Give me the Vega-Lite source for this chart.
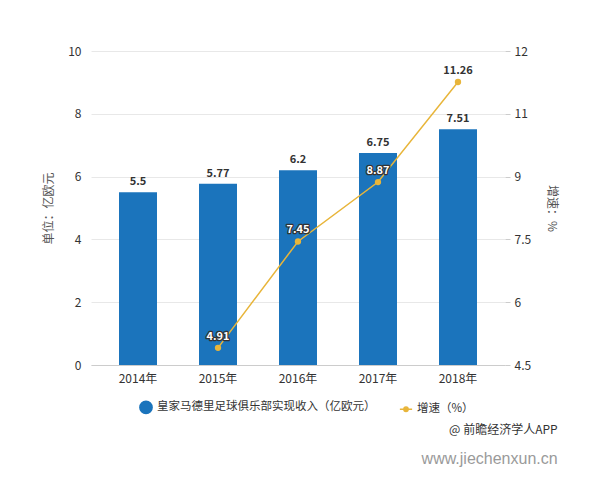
{
  "$schema": "https://vega.github.io/schema/vega-lite/v6.json",
  "width": 414,
  "height": 314,
  "padding": {"left": 42, "top": 45, "right": 10, "bottom": 5},
  "background": "white",
  "config": {
    "font": "Noto Sans CJK SC",
    "view": {"stroke": null},
    "axis": {"labelFont": "Noto Sans CJK SC", "titleFont": "Noto Sans CJK SC", "labelColor": "#333", "labelFontSize": 12, "titleColor": "#555", "titleFontSize": 12, "titleFontWeight": "normal"},
    "legend": {"labelFont": "Noto Sans CJK SC", "labelFontSize": 11.5, "labelColor": "#333", "labelLimit": 0}
  },
  "data": {
    "values": [
      {"year": "2014年", "revenue": 5.5, "growth": null},
      {"year": "2015年", "revenue": 5.77, "growth": 4.91},
      {"year": "2016年", "revenue": 6.2, "growth": 7.45},
      {"year": "2017年", "revenue": 6.75, "growth": 8.87},
      {"year": "2018年", "revenue": 7.51, "growth": 11.26}
    ]
  },
  "title": {
    "text": "@ 前瞻经济学人APP",
    "subtitle": "www.jiechenxun.cn",
    "orient": "bottom",
    "anchor": "end",
    "frame": "bounds",
    "fontSize": 12,
    "fontWeight": "normal",
    "color": "#333",
    "subtitleColor": "#9a9a9a",
    "subtitleFontSize": 16,
    "subtitleFont": "Liberation Sans",
    "offset": 8,
    "subtitlePadding": 14
  },
  "encoding": {
    "x": {
      "field": "year",
      "type": "ordinal",
      "scale": {"paddingInner": 0.525, "paddingOuter": 0.35},
      "axis": {"title": null, "labelAngle": 0, "domainColor": "#ccc", "ticks": false, "labelPadding": 8}
    }
  },
  "layer": [
    {
      "encoding": {
        "y": {
          "field": "revenue",
          "type": "quantitative",
          "scale": {"domain": [0, 10], "nice": false},
          "axis": {"title": "单位：亿欧元", "values": [0, 2, 4, 6, 8, 10], "grid": true, "gridColor": "#e8e8e8", "domain": false, "ticks": false, "labelPadding": 10, "titlePadding": 12}
        }
      },
      "layer": [
        {
          "mark": {"type": "bar"},
          "encoding": {
            "color": {
              "datum": "皇家马德里足球俱乐部实现收入（亿欧元）",
              "type": "nominal",
              "scale": {"domain": ["皇家马德里足球俱乐部实现收入（亿欧元）", "增速（%）"], "range": ["#1b74bc", "#e8b53a"]},
              "legend": {
                "title": null, "orient": "none", "legendX": 48, "legendY": 349, "direction": "horizontal",
                "symbolType": "circle", "symbolSize": 150, "columnPadding": 20,
                "encode": {
                  "symbols": {
                    "update": {
                      "shape": [{"test": "datum.value === '增速（%）'", "value": "M-1,0H1M-0.35,0A0.35,0.35 0 1,0 0.35,0A0.35,0.35 0 1,0 -0.35,0Z"}, {"value": "circle"}],
                      "stroke": [{"test": "datum.value === '增速（%）'", "value": "#e8b53a"}, {"value": "transparent"}],
                      "strokeWidth": {"value": 1.5}
                    }
                  }
                }
              }
            }
          }
        },
        {
          "mark": {"type": "text", "dy": -10, "fontSize": 11, "fontWeight": "bold", "color": "#333"},
          "encoding": {"text": {"field": "revenue", "type": "nominal"}}
        }
      ]
    },
    {
      "encoding": {
        "y": {
          "field": "growth",
          "type": "quantitative",
          "scale": {"domain": [4.5, 12], "nice": false, "zero": false},
          "axis": {"orient": "right", "title": "增速：%", "titleAngle": 90, "values": [4.5, 6, 7.5, 9, 10.5, 12], "format": "~g", "grid": false, "domain": false, "ticks": true, "tickColor": "#ccc", "tickSize": 5, "labelPadding": 4, "titlePadding": 14}
        }
      },
      "layer": [
        {
          "mark": {"type": "line", "strokeWidth": 1.5, "point": {"filled": true, "size": 40}},
          "encoding": {
            "color": {"datum": "增速（%）", "type": "nominal"}
          }
        },
        {
          "transform": [{"filter": "datum.year !== '2018年'"}],
          "mark": {"type": "text", "dy": -11, "fontSize": 11, "fontWeight": "bold", "stroke": "#333", "strokeWidth": 2.5, "strokeJoin": "round"},
          "encoding": {"text": {"field": "growth", "type": "nominal"}}
        },
        {
          "mark": {"type": "text", "dy": -11, "fontSize": 11, "fontWeight": "bold"},
          "encoding": {
            "text": {"field": "growth", "type": "nominal"},
            "color": {"condition": {"test": "datum.year === '2018年'", "value": "#333"}, "value": "white"}
          }
        }
      ]
    }
  ],
  "resolve": {"scale": {"y": "independent"}}
}
